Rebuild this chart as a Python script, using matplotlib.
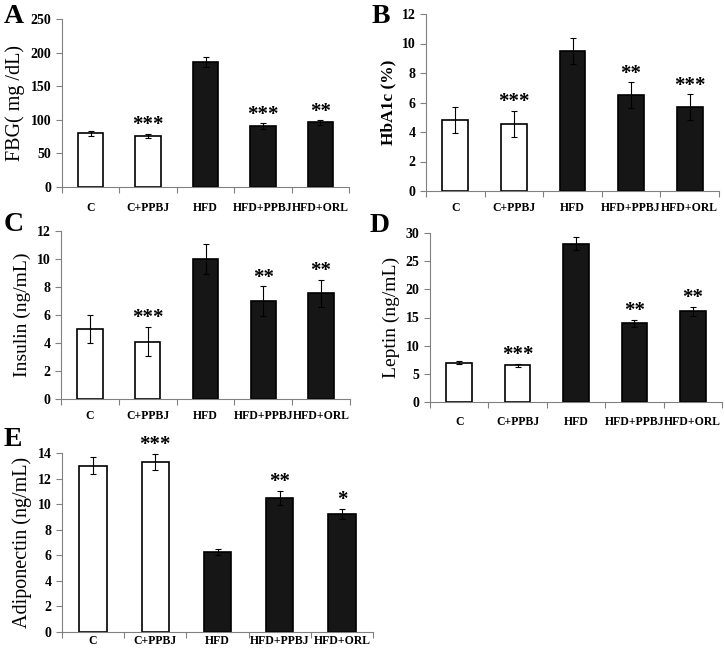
import numpy as np
import matplotlib
matplotlib.use("Agg")
import matplotlib.pyplot as plt

plt.rcParams['font.family'] = ['Liberation Serif', 'DejaVu Serif']

groups = ["C", "C+PPBJ", "HFD", "HFD+PPBJ", "HFD+ORL"]
bar_fill = ["white", "white", "#161616", "#161616", "#161616"]

# A - fasting blood glucose
fbg = [80, 76, 186, 91, 96]
fbg_err = [3.5, 3.5, 7, 4, 3.5]
fbg_sig = ["", "***", "", "***", "**"]

# B - HbA1c
hba1c = [4.8, 4.55, 9.5, 6.5, 5.7]
hba1c_err = [0.87, 0.87, 0.87, 0.87, 0.86]
hba1c_sig = ["", "***", "", "**", "***"]

# C - insulin
insulin = [5.0, 4.1, 10.0, 7.0, 7.55]
insulin_err = [1.0, 1.05, 1.05, 1.05, 0.97]
insulin_sig = ["", "***", "", "**", "**"]

# D - leptin
leptin = [7.0, 6.5, 28.1, 14.0, 16.1]
leptin_err = [0.3, 0.3, 1.2, 0.6, 0.75]
leptin_sig = ["", "***", "", "**", "**"]

# E - adiponectin
adipo = [13.0, 13.3, 6.25, 10.5, 9.25]
adipo_err = [0.65, 0.65, 0.25, 0.55, 0.4]
adipo_sig = ["", "***", "", "**", "*"]

W, H = 725, 659
fig = plt.figure(figsize=(W / 100, H / 100), dpi=100)


def px_axes(left, top, right, bottom):
    # pixel box -> figure fraction
    return fig.add_axes([left / W, 1 - bottom / H, (right - left) / W, (bottom - top) / H])


def panel(ax, vals, errs, sig, ymax, step, ylabel, label_kw=None, xpad=9):
    x = np.arange(len(groups))
    ax.bar(x, vals, width=0.44, color=bar_fill, edgecolor="black", linewidth=1.2, zorder=2)
    ax.errorbar(x, vals, yerr=errs, fmt="none", ecolor="black", elinewidth=0.8,
                capsize=2.5, capthick=0.8, zorder=3)
    for xi, v, e, s in zip(x, vals, errs, sig):
        if s:
            ax.annotate(s, (xi, v + e), xytext=(0, -1), textcoords="offset points",
                        ha="center", va="bottom", fontsize=15, fontweight="bold")
    ax.set_xlim(-0.5, len(groups) - 0.5)
    ax.set_ylim(0, ymax)
    ax.set_yticks(np.arange(0, ymax + step / 2, step))
    ax.set_xticks(x)
    ax.set_xticklabels(groups, fontsize=8.5, fontweight="bold")
    ax.set_xticks(np.arange(-0.5, len(groups)), minor=True)
    ax.tick_params(axis="x", which="major", length=0, pad=xpad)
    ax.tick_params(axis="x", which="minor", length=4, color="#808080", width=0.8)
    ax.tick_params(axis="y", length=4, color="#808080", width=0.8, labelsize=10)
    for t in ax.get_yticklabels():
        t.set_fontweight("bold")
    for sp in ["top", "right"]:
        ax.spines[sp].set_visible(False)
    for sp in ["left", "bottom"]:
        ax.spines[sp].set_color("#808080")
        ax.spines[sp].set_linewidth(0.8)
    kw = dict(fontsize=13)
    if label_kw:
        kw.update(label_kw)
    ax.set_ylabel(ylabel, labelpad=4, **kw)


axA = px_axes(62, 19, 349, 187)
panel(axA, fbg, fbg_err, fbg_sig, 250, 50, "FBG( mg /dL)", dict(fontsize=14.5), xpad=11)
axB = px_axes(426, 14, 719, 191)
panel(axB, hba1c, hba1c_err, hba1c_sig, 12, 2, "HbA1c (%)", dict(fontweight="bold", fontsize=12.5), xpad=8)
axC = px_axes(61, 231, 350, 399)
panel(axC, insulin, insulin_err, insulin_sig, 12, 2, "Insulin (ng/mL)", dict(fontsize=14), xpad=8)
axD = px_axes(430, 233, 722, 402)
panel(axD, leptin, leptin_err, leptin_sig, 30, 5, "Leptin (ng/mL)", dict(fontsize=14), xpad=10)
axE = px_axes(62, 453, 373, 632)
panel(axE, adipo, adipo_err, adipo_sig, 14, 2, "Adiponectin (ng/mL)", dict(fontsize=14.5), xpad=2)

for lab, (px, py) in zip("ABCDE", [(4, 4), (372, 4), (4, 212), (370, 213), (4, 427)]):
    fig.text(px / W, 1 - py / H, lab, fontsize=20, fontweight="bold", ha="left", va="top")

fig.savefig("out.png", dpi=100)
